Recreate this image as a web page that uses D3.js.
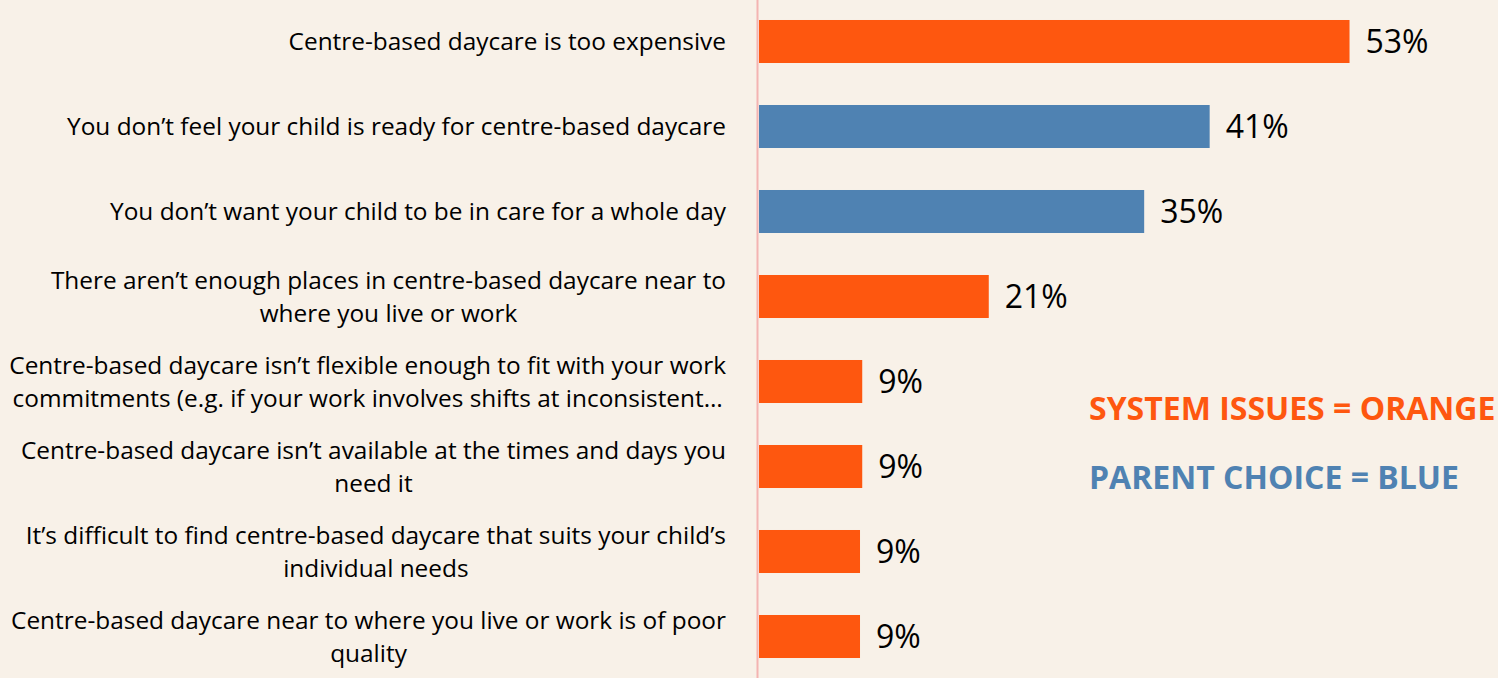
<!DOCTYPE html>
<html>
<head>
<meta charset="utf-8">
<script src="https://cdnjs.cloudflare.com/ajax/libs/d3/7.8.5/d3.min.js"></script>
<style>
    html, body { margin: 0; padding: 0; background: #f8f1e8; }
    svg { display: block; }
</style>
</head>
<body>
<svg id="chart" width="1498" height="678"></svg>
<script>
// reasons given for not using centre-based daycare
var categories = [
    "Centre-based daycare is too expensive",
    "You don\u2019t feel your child is ready for centre-based daycare",
    "You don\u2019t want your child to be in care for a whole day",
    "There aren\u2019t enough places in centre-based daycare near to\nwhere you live or work",
    "Centre-based daycare isn\u2019t flexible enough to fit with your work\ncommitments (e.g. if your work involves shifts at inconsistent\u2026",
    "Centre-based daycare isn\u2019t available at the times and days you\nneed it",
    "It\u2019s difficult to find centre-based daycare that suits your child\u2019s\nindividual needs",
    "Centre-based daycare near to where you live or work is of poor\nquality"
];
var values = [53.2, 40.6, 34.7, 20.7, 9.3, 9.3, 9.1, 9.1];
var groups = ["system", "parent", "parent", "system", "system", "system", "system", "system"];
var legendLabels = ["SYSTEM ISSUES = ORANGE", "PARENT CHOICE = BLUE"];
var legendGroups = ["system", "parent"];

var colors = { system: "#fe570f", parent: "#4f82b2" };
var width = 1498, height = 678;
var axisX = 759, labelRight = 726;

var svg = d3.select("#chart");

svg.append("rect")
    .attr("width", width)
    .attr("height", height)
    .attr("fill", "#f8f1e8");

var items = categories.map(function (c, i) {
    return { cat: c, value: values[i], group: groups[i] };
});

var x = d3.scaleLinear().domain([0, 60]).range([axisX, axisX + 666]);
var y = d3.scaleBand()
    .domain(categories)
    .range([-1, 679])
    .paddingInner(0.494)
    .paddingOuter(0.247);

svg.append("g")
    .selectAll("rect")
    .data(items)
    .enter().append("rect")
    .attr("x", x(0))
    .attr("y", function (d) { return y(d.cat); })
    .attr("width", function (d) { return x(d.value) - x(0); })
    .attr("height", y.bandwidth())
    .attr("fill", function (d) { return colors[d.group]; });

// vertical axis line
svg.append("line")
    .attr("x1", x(0) - 1.5).attr("x2", x(0) - 1.5)
    .attr("y1", 0).attr("y2", height)
    .attr("stroke", "#f4b4b2")
    .attr("stroke-width", 2);

// value labels
svg.append("g")
    .selectAll("text")
    .data(items)
    .enter().append("text")
    .attr("x", function (d) { return x(d.value) + 16; })
    .attr("y", function (d) { return y(d.cat) + y.bandwidth() / 2 + 11; })
    .attr("font-family", "'Open Sans', sans-serif")
    .attr("font-size", 32)
    .attr("fill", "#000")
    .text(function (d) { return Math.round(d.value) + "%"; });

// category labels: lines centred on each other, block right-aligned
var catG = svg.append("g")
    .attr("font-family", "'Open Sans', sans-serif")
    .attr("font-size", 24.4)
    .attr("fill", "#000");

items.forEach(function (d) {
    var lines = d.cat.split("\n");
    var cy = y(d.cat) + y.bandwidth() / 2;
    var lineH = 33;
    var t = catG.append("text").attr("text-anchor", "middle");
    lines.forEach(function (ln, j) {
        t.append("tspan")
            .attr("y", cy + (j - (lines.length - 1) / 2) * lineH + 8.5)
            .text(ln);
    });
    var maxW = 0;
    t.selectAll("tspan").each(function () {
        maxW = Math.max(maxW, this.getComputedTextLength());
    });
    t.selectAll("tspan").attr("x", labelRight - maxW / 2);
});

// legend
svg.append("g")
    .selectAll("text")
    .data(legendLabels)
    .enter().append("text")
    .attr("x", 1089)
    .attr("y", function (d, i) { return 420 + i * 69; })
    .attr("font-family", "'Open Sans', sans-serif")
    .attr("font-weight", "bold")
    .attr("font-size", 32)
    .attr("fill", function (d, i) { return colors[legendGroups[i]]; })
    .text(function (d) { return d; });
</script>
</body>
</html>
